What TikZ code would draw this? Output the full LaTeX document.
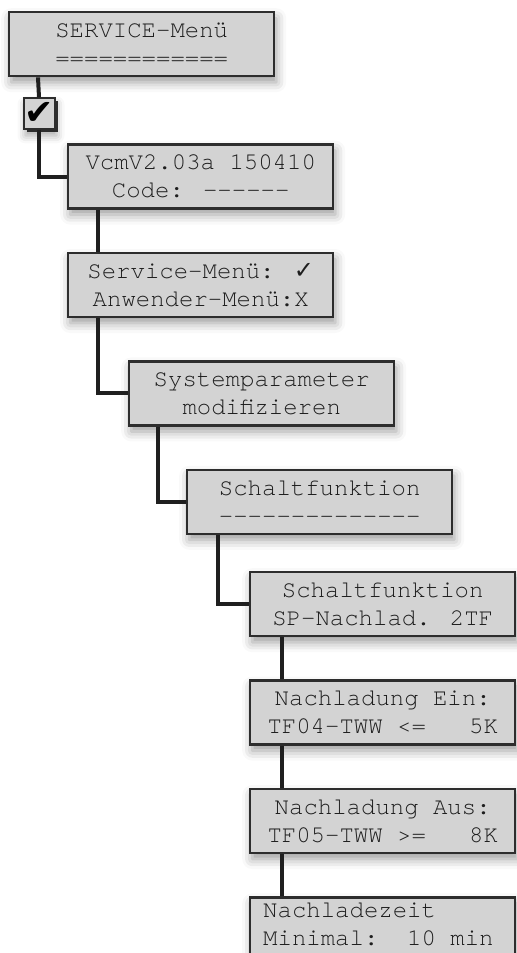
\documentclass[tikz,border=0pt]{standalone}
\usepackage{fontspec}
\newfontfamily\lcdfont{TeX Gyre Cursor}
\newfontfamily\symbfont{DejaVu Sans}
\usetikzlibrary{positioning,shadows,shadows.blur}

\definecolor{lcdgray}{RGB}{211,211,211}
\definecolor{rimgray}{RGB}{45,45,45}
\definecolor{inkgray}{RGB}{30,30,30}
\newcommand{\lcdgap}{\hspace*{0.6em}}

\begin{document}
\begin{tikzpicture}[
  font=\lcdfont\fontsize{12}{14}\selectfont,
  screen/.style={draw=rimgray, line width=1.2pt, fill=lcdgray, text=inkgray, align=center,
    minimum width=132.5pt, minimum height=32pt, inner sep=0pt,
    blur shadow={shadow xshift=1pt, shadow yshift=-3pt, shadow blur radius=5pt, shadow opacity=40}},
  tickbox/.style={draw=rimgray, line width=1pt, fill=lcdgray, minimum size=15.5pt, inner sep=0pt,
    blur shadow={shadow xshift=1pt, shadow yshift=-3pt, shadow blur radius=4pt, shadow opacity=35},
    general shadow={fill=rimgray, shadow xshift=1.5pt, shadow yshift=-1.5pt}},
  link/.style={line width=2pt, draw=black!88}
]
\useasboundingbox (0,0) rectangle (258pt,-476.5pt);

% menu screens, each one step further down the tree
\node[screen, anchor=north west] (service) at (4pt,-5.5pt) {SERVICE-Menü\\============};
\node[tickbox, below=10pt of service.south west, xshift=15.5pt] (tick)
  {\symbfont\fontsize{17.5}{17.5}\selectfont ✔};

\node[screen, below right=33pt and 29.5pt of service.south west] (version) {VcmV2.03a 150410\\Code: ------};
\node[screen, below=21pt of version] (mode) {Service-Menü: {\symbfont ✓}\\Anwender-Menü:X};
\node[screen, below right=21pt and 30.5pt of mode.south west] (syspar) {Systemparameter\\modifizieren};
\node[screen, below right=21pt and 29pt of syspar.south west] (switchfn) {Schaltfunktion\\--------------};
\node[screen, below right=18pt and 31.5pt of switchfn.south west] (chargefn) {Schaltfunktion\\SP-Nachlad. 2TF};

\node[screen, below=21pt of chargefn] (onval) {Nachladung Ein:\\TF04-TWW <=\lcdgap\lcdgap\lcdgap 5K};
\node[screen, below=21pt of onval] (offval) {Nachladung Aus:\\TF05-TWW >=\lcdgap\lcdgap\lcdgap 8K};
\node[screen, below=21pt of offval, align=left, inner xsep=6.5pt, inner ysep=2.5pt, text width=119.5pt,
      minimum height=0pt, text height=7.5pt, text depth=20.5pt] (mintime)
  {Nachladezeit\\Minimal:\lcdgap\lcdgap 10\lcdgap min};

% tree connectors
\draw[link] ([xshift=15pt]service.south west) -- (tick.north);
\draw[link] (tick.south) |- (version.west);
\draw[link] ([xshift=15.5pt]version.south west) -- ([xshift=15.5pt]mode.north west);
\draw[link] ([xshift=15.5pt]mode.south west) |- (syspar.west);
\draw[link] ([xshift=15pt]syspar.south west) |- (switchfn.west);
\draw[link] ([xshift=16pt]switchfn.south west) |- (chargefn.west);
\draw[link] ([xshift=16.5pt]chargefn.south west) -- ([xshift=16.5pt]onval.north west);
\draw[link] ([xshift=16.5pt]onval.south west) -- ([xshift=16.5pt]offval.north west);
\draw[link] ([xshift=16.5pt]offval.south west) -- ([xshift=16.5pt]mintime.north west);

\end{tikzpicture}
\end{document}
